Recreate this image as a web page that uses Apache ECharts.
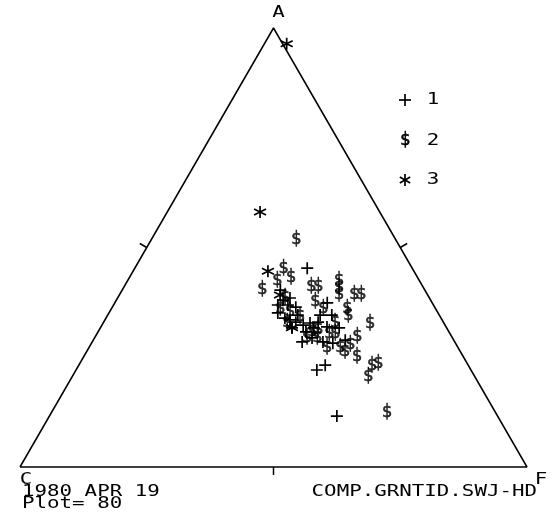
<!DOCTYPE html>
<html>
<head>
<meta charset="utf-8">
<script src="https://cdn.jsdelivr.net/npm/echarts@6/dist/echarts.min.js"></script>
<style>
html, body { margin: 0; padding: 0; background: #fff; }
#chart { width: 556px; height: 527px; }
</style>
</head>
<body>
<div id="chart"></div>
<script>
// Compositions in percent, each entry is [A, F]; C = 100 - A - F.
const group1 = [
  [45.3, 34.0], [36.9, 32.4], [36.9, 34.4], [36.4, 36.2], [35.1, 33.3], [33.9, 35.3],
  [33.5, 36.5], [31.7, 37.8], [32.3, 39.7], [32.8, 40.8], [37.4, 41.9], [34.6, 41.9],
  [34.6, 44.2], [31.9, 44.6], [28.5, 41.4], [28.5, 45.5], [31.7, 42.1], [23.2, 48.6],
  [22.1, 47.5], [11.6, 56.7], [38.0, 32.9], [34.6, 37.5], [33.0, 37.9], [30.8, 41.0],
  [33.0, 42.3], [28.2, 47.6], [28.9, 49.7], [40.3, 31.2], [38.5, 34.0], [29.4, 42.9],
  [31.7, 47.1]
];
const group2 = [
  [51.7, 28.6], [45.1, 29.4], [42.4, 29.5], [43.1, 31.9], [40.5, 27.5], [41.2, 36.8],
  [41.2, 38.2], [42.4, 41.7], [40.8, 42.5], [39.2, 43.3], [39.2, 46.3], [39.2, 47.7],
  [37.6, 39.4], [36.0, 46.5], [34.4, 47.5], [32.6, 52.7], [36.2, 33.2], [35.3, 35.6],
  [38.5, 33.0], [30.8, 42.2], [31.2, 43.2], [32.8, 45.7], [30.5, 46.9], [29.4, 41.9],
  [29.4, 43.9], [27.3, 46.9], [27.1, 49.6], [27.8, 51.2], [29.6, 51.7], [25.1, 53.9],
  [23.0, 57.9], [23.5, 58.9], [20.7, 58.3], [12.5, 66.1], [26.2, 51.0], [30.3, 45.8],
  [34.2, 38.1], [32.8, 36.3], [36.2, 41.7]
];
const group3 = [
  [96.4, 4.4], [58.1, 18.3], [44.6, 26.6], [39.2, 31.7], [31.7, 37.8]
];
const groupNames = ['1', '2', '3'];
const groupMarks = ['+', '$', '*'];
const vertexNames = ['A', 'C', 'F'];
const footLeft = ['1980 APR 19', 'Plot= 80'];
const footRight = 'COMP.GRNTID.SWJ-HD';

const SQ = Math.sqrt(3) / 2;
const TOP = 100 * SQ;
// ternary [A, F] -> cartesian with C at origin, F at (100,0), A at apex
const toXY = p => [p[1] + p[0] / 2, p[0] * SQ];

const FONT = 'DejaVu Sans Mono';
const INK = '#000';
const plusPath = 'path://M5,0L5,10M0,5L10,5';
const starPath = 'path://M5,0L5,10M0.67,2.5L9.33,7.5M0.67,7.5L9.33,2.5';

const chart = echarts.init(document.getElementById('chart'), null, { renderer: 'canvas' });

const strokeMark = path => ({
  type: 'scatter',
  symbol: path,
  symbolSize: 12,
  itemStyle: { color: 'rgba(0,0,0,0)', borderColor: INK, borderWidth: 1.7, opacity: 1 },
  silent: true
});

chart.setOption({
  animation: false,
  backgroundColor: '#fff',
  grid: { left: 20, right: 29, top: 28, bottom: 60 },
  xAxis: { type: 'value', min: 0, max: 100, show: false },
  yAxis: { type: 'value', min: 0, max: TOP, show: false },
  series: [
    {
      type: 'line',
      data: [[0, 0], [100, 0], [50, TOP], [0, 0]],
      symbol: 'none',
      clip: false,
      silent: true,
      lineStyle: { color: INK, width: 1.5 }
    },
    Object.assign(strokeMark(plusPath), { name: groupNames[0], data: group1.map(toXY) }),
    {
      name: groupNames[1],
      type: 'scatter',
      data: group2.map(toXY),
      symbol: 'circle',
      symbolSize: 1,
      itemStyle: { color: 'rgba(0,0,0,0)' },
      silent: true,
      label: {
        show: true,
        position: 'inside',
        formatter: groupMarks[1],
        fontFamily: FONT,
        fontSize: 17,
        color: INK,
        textBorderColor: INK,
        textBorderWidth: 0.6
      },
      labelLayout: { hideOverlap: false }
    },
    Object.assign(strokeMark(starPath), { name: groupNames[2], data: group3.map(toXY) })
  ]
});

// Side ticks, vertex names, legend and footer text placed from the grid's pixel mapping
const px = p => chart.convertToPixel({ gridIndex: 0 }, p);
const cPt = px([0, 0]), fPt = px([100, 0]), aPt = px([50, TOP]);
const graphics = [];

const TICK = 8;
[
  { at: [50, 0], dir: [0, 1] },
  { at: [25, TOP / 2], dir: [-SQ, -0.5] },
  { at: [75, TOP / 2], dir: [SQ, -0.5] }
].forEach(t => {
  const p = px(t.at);
  graphics.push({
    type: 'line',
    shape: { x1: p[0], y1: p[1], x2: p[0] + t.dir[0] * TICK, y2: p[1] + t.dir[1] * TICK },
    style: { stroke: INK, lineWidth: 1.5 },
    silent: true
  });
});

function label(text, x, y, align) {
  return {
    type: 'text',
    x: x, y: y,
    scaleX: 1.3,
    silent: true,
    style: {
      text: text, x: 0, y: 0,
      fill: INK,
      font: '16px "' + FONT + '"',
      textAlign: align || 'left',
      textVerticalAlign: 'middle'
    }
  };
}

graphics.push(label(vertexNames[0], aPt[0] + 5, aPt[1] - 15, 'center'));
graphics.push(label(vertexNames[1], cPt[0] + 6, cPt[1] + 13, 'center'));
graphics.push(label(vertexNames[2], fPt[0] + 14, fPt[1] + 13, 'center'));
graphics.push(label(footLeft[0], cPt[0] + 2, cPt[1] + 25, 'left'));
graphics.push(label(footLeft[1], cPt[0] + 2, cPt[1] + 37, 'left'));
graphics.push(label(footRight, fPt[0] + 10, fPt[1] + 25, 'right'));

// legend: mark then group name
const LEG_X = 405, LEG_NUM_X = 433, LEG_Y = [100, 141, 180];
const h = 6;
const legLine = (x1, y1, x2, y2) => ({ type: 'line', silent: true, shape: { x1, y1, x2, y2 }, style: { stroke: INK, lineWidth: 1.7 } });
graphics.push(legLine(LEG_X - h, LEG_Y[0], LEG_X + h, LEG_Y[0]), legLine(LEG_X, LEG_Y[0] - h, LEG_X, LEG_Y[0] + h));
graphics.push({
  type: 'text', x: LEG_X, y: LEG_Y[1], silent: true,
  style: { text: groupMarks[1], x: 0, y: 0, fill: INK, font: '17px "' + FONT + '"', textAlign: 'center', textVerticalAlign: 'middle', stroke: INK, lineWidth: 0.6 }
});
[[0, h], [SQ * h, 0.5 * h], [SQ * h, -0.5 * h]].forEach(d => {
  graphics.push(legLine(LEG_X + d[0], LEG_Y[2] + d[1], LEG_X - d[0], LEG_Y[2] - d[1]));
});
groupNames.forEach((n, i) => graphics.push(label(n, LEG_NUM_X, LEG_Y[i], 'center')));

chart.setOption({ graphic: { elements: graphics } });
</script>
</body>
</html>
